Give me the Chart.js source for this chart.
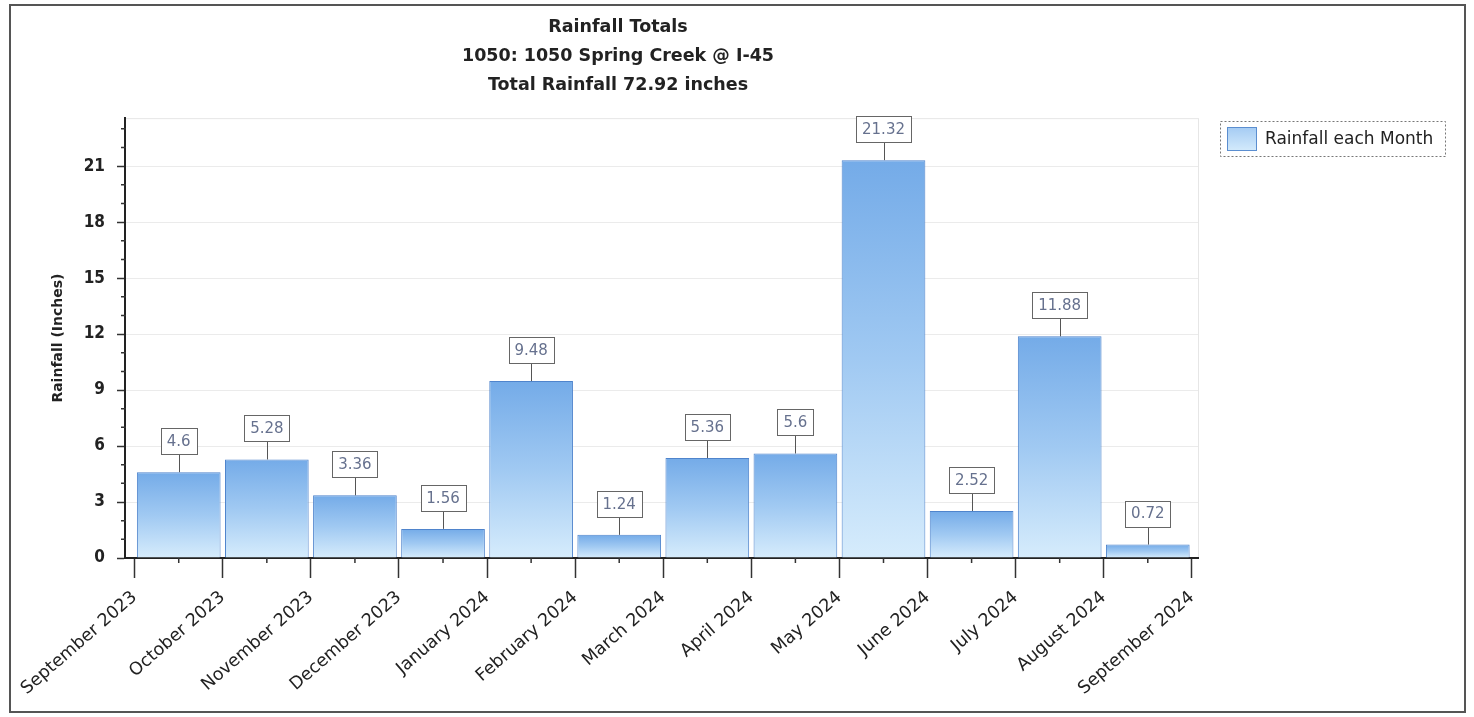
<!DOCTYPE html>
<html>
<head>
<meta charset="utf-8">
<script src="https://cdn.jsdelivr.net/npm/chart.js@4"></script>
<style>
  html, body { margin: 0; padding: 0; background: #fff; }
  #wrap { width: 1474px; height: 717px; position: relative; }
  canvas { display: block; }
</style>
</head>
<body>
<div id="wrap"><canvas id="c" width="1474" height="717"></canvas></div>
<script>
// ---- data ----
const tickLabels = ['September 2023', 'October 2023', 'November 2023', 'December 2023',
  'January 2024', 'February 2024', 'March 2024', 'April 2024', 'May 2024',
  'June 2024', 'July 2024', 'August 2024', 'September 2024'];
const months = tickLabels.slice(0, 12);
const rainfall = [4.6, 5.28, 3.36, 1.56, 9.48, 1.24, 5.36, 5.6, 21.32, 2.52, 11.88, 0.72];
const yTickValues = [0, 3, 6, 9, 12, 15, 18, 21];
const titleLines = ['Rainfall Totals', '1050: 1050 Spring Creek @ I-45', 'Total Rainfall 72.92 inches'];
const seriesName = 'Rainfall each Month';
const yAxisTitle = 'Rainfall (Inches)';

const FONT = "'DejaVu Sans', sans-serif";
const FONT_C = "'DejaVu Sans Condensed', 'DejaVu Sans', sans-serif";

const barPoints = months.map((m, i) => ({ x: i + 0.5, y: rainfall[i] }));

function barGradient(ctx) {
  const chart = ctx.chart;
  if (!chart.chartArea || ctx.type !== 'data') return '#9cc7f2';
  const ys = chart.scales.y;
  const top = ys.getPixelForValue(ctx.raw.y);
  const bot = ys.getPixelForValue(0);
  const g = chart.ctx.createLinearGradient(0, top, 0, bot);
  g.addColorStop(0, '#74abe8');
  g.addColorStop(0.5, '#a0c9f2');
  g.addColorStop(1, '#d6ecfc');
  return g;
}

const framePlugin = {
  id: 'frame',
  beforeDraw(chart) {
    const c = chart.ctx;
    c.save();
    c.fillStyle = '#fff';
    c.fillRect(0, 0, chart.width, chart.height);
    const a = chart.chartArea;
    c.strokeStyle = '#e6e6e6';
    c.lineWidth = 1;
    c.strokeRect(a.left + 0.5, a.top + 0.5, a.right - a.left, a.bottom - a.top);
    c.restore();
  },
  afterDraw(chart) {
    const c = chart.ctx;
    c.save();
    // outer frame
    c.strokeStyle = '#555';
    c.lineWidth = 2;
    c.strokeRect(10, 5, 1455, 707);
    // minor ticks on axes
    const xs = chart.scales.x, ys = chart.scales.y;
    const a = chart.chartArea;
    c.strokeStyle = '#333';
    c.lineWidth = 1.5;
    c.beginPath();
    for (let i = 0; i < months.length; i++) {
      const px = xs.getPixelForValue(i + 0.5);
      c.moveTo(px, a.bottom);
      c.lineTo(px, a.bottom + 5);
    }
    for (let v = 1; v <= 23; v++) {
      if (v % 3 === 0) continue;
      const py = ys.getPixelForValue(v);
      c.moveTo(a.left - 4, py);
      c.lineTo(a.left + 1, py);
    }
    c.stroke();
    // legend
    c.setLineDash([2, 2]);
    c.strokeStyle = '#777';
    c.lineWidth = 1;
    c.strokeRect(1220.5, 121.5, 225, 35);
    c.setLineDash([]);
    const g = c.createLinearGradient(0, 127, 0, 152);
    g.addColorStop(0, '#a4cbf3');
    g.addColorStop(1, '#d6ecfc');
    c.fillStyle = g;
    c.fillRect(1227, 127, 30, 24);
    c.strokeStyle = '#5b8ed0';
    c.strokeRect(1227.5, 127.5, 29, 23);
    c.fillStyle = '#222';
    c.font = '17px ' + FONT;
    c.textBaseline = 'middle';
    c.textAlign = 'left';
    c.fillText(seriesName, 1265, 140);
    c.restore();
  }
};

const valueLabelPlugin = {
  id: 'valueLabels',
  afterDatasetsDraw(chart) {
    const c = chart.ctx;
    const meta = chart.getDatasetMeta(0);
    c.save();
    c.font = '15px ' + FONT;
    c.textAlign = 'center';
    c.textBaseline = 'middle';
    meta.data.forEach((bar, i) => {
      const txt = String(rainfall[i]);
      const w = Math.round(c.measureText(txt).width + 12);
      const h = 26;
      const x = bar.x;
      const top = bar.y;
      const boxBottom = top - 18;
      c.strokeStyle = '#555';
      c.lineWidth = 1;
      c.beginPath();
      c.moveTo(Math.round(x) + 0.5, top);
      c.lineTo(Math.round(x) + 0.5, boxBottom);
      c.stroke();
      const bx = Math.round(x - w / 2) + 0.5;
      const by = Math.round(boxBottom - h) + 0.5;
      c.fillStyle = '#fff';
      c.fillRect(bx, by, w, h);
      c.strokeStyle = '#666';
      c.strokeRect(bx, by, w, h);
      c.fillStyle = '#66718e';
      c.fillText(txt, x, boxBottom - h / 2 + 1);
    });
    c.restore();
  }
};

new Chart(document.getElementById('c'), {
  type: 'bar',
  data: {
    datasets: [{
      label: seriesName,
      data: barPoints,
      backgroundColor: barGradient,
      borderColor: '#4f84cc',
      borderWidth: 1,
      barPercentage: 0.95,
      categoryPercentage: 1.0
    }]
  },
  options: {
    responsive: false,
    animation: false,
    devicePixelRatio: 1,
    layout: { padding: { left: 38, right: 276, top: 8, bottom: 0 } },
    plugins: {
      legend: { display: false },
      tooltip: { enabled: false },
      title: {
        display: true,
        text: titleLines,
        color: '#222',
        font: { family: FONT, size: 17.5, weight: 'bold', lineHeight: 1.66 },
        padding: { top: 5, bottom: 18 }
      }
    },
    scales: {
      x: {
        type: 'linear',
        offset: false,
        min: -0.11,
        max: 12.07,
        afterBuildTicks(scale) {
          scale.ticks = tickLabels.map((_, i) => ({ value: i }));
        },
        afterFit(scale) { scale.height = 159; },
        ticks: {
          autoSkip: false,
          minRotation: 41,
          maxRotation: 41,
          padding: 9,
          color: '#222',
          font: { family: FONT, size: 17.5 },
          callback: (v) => tickLabels[v]
        },
        grid: {
          offset: false,
          drawOnChartArea: false,
          tickLength: 20,
          tickColor: '#333',
          tickWidth: 1.5
        },
        border: { display: true, color: '#222', width: 2 }
      },
      y: {
        type: 'linear',
        min: 0,
        max: 23.57,
        afterBuildTicks(scale) {
          scale.ticks = yTickValues.map(v => ({ value: v }));
        },
        afterFit(scale) { scale.width = 87; },
        ticks: {
          padding: 12,
          color: '#222',
          font: { family: FONT_C, size: 17, weight: 'bold' }
        },
        grid: {
          color: '#ebebeb',
          lineWidth: 1,
          tickLength: 8,
          tickColor: '#333',
          tickWidth: 1.5
        },
        border: { display: true, color: '#222', width: 2 },
        title: {
          display: true,
          text: yAxisTitle,
          color: '#222',
          font: { family: FONT, size: 14, weight: 'bold' },
          padding: { top: 12, bottom: 0 }
        }
      }
    }
  },
  plugins: [framePlugin, valueLabelPlugin]
});
</script>
</body>
</html>
